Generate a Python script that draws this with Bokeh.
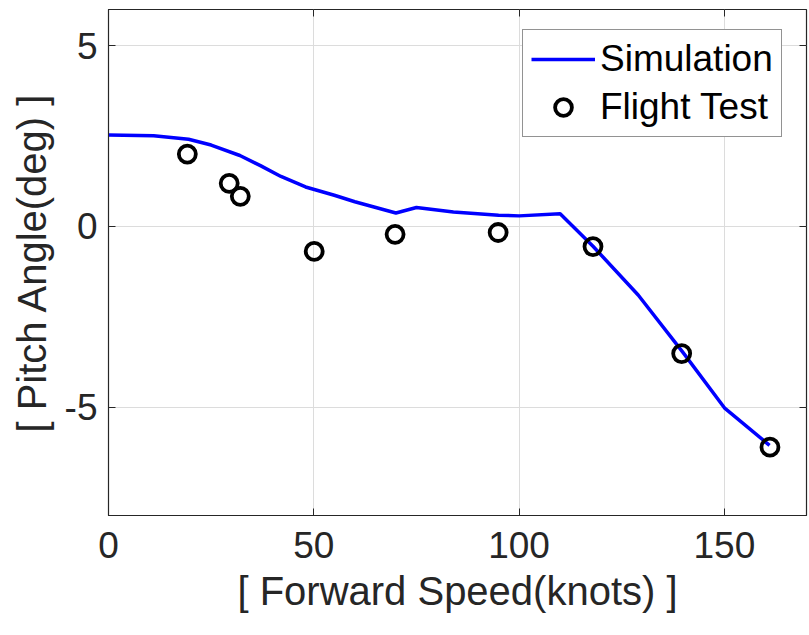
from bokeh.plotting import figure
from bokeh.models import Range1d, LinearAxis, Legend, LegendItem, FixedTicker
from bokeh.embed import file_html
from bokeh.resources import INLINE

# Simulated pitch angle vs forward speed
sim_speed = [0, 11, 19.5, 25, 32, 37, 42, 48, 55, 60, 70, 75, 84, 95, 100, 110, 118, 129, 140, 150, 161]
sim_pitch = [2.53, 2.51, 2.41, 2.25, 1.96, 1.68, 1.38, 1.09, 0.86, 0.68, 0.37, 0.52, 0.40, 0.31, 0.29, 0.35, -0.55, -1.9, -3.5, -5.02, -6.06]

# Flight test measurements
test_speed = [19.2, 29.4, 32.1, 50.1, 69.8, 94.9, 118.0, 139.6, 161.1]
test_pitch = [2.0, 1.19, 0.83, -0.69, -0.22, -0.17, -0.56, -3.52, -6.11]

x_ticks = [0, 50, 100, 150]
y_ticks = [-5, 0, 5]
y_tick_text = {-5: "-5", 0: "0", 5: "5"}

FONT = "Liberation Sans"
TXT = "#262626"

p = figure(width=809, height=635, output_backend="svg", toolbar_location=None,
           x_range=Range1d(0, 170), y_range=Range1d(-8, 6),
           min_border_left=108, min_border_right=3, min_border_top=9,
           min_border_bottom=120, background_fill_color="white",
           border_fill_color="white")

p.outline_line_color = TXT
p.outline_line_width = 1.2

for ax in (p.xaxis[0], p.yaxis[0]):
    ax.major_tick_in = 7
    ax.major_tick_out = 0
    ax.minor_tick_line_color = None
    ax.axis_line_color = TXT
    ax.major_tick_line_color = TXT
    ax.major_label_text_font = FONT
    ax.major_label_text_font_size = "37px"
    ax.major_label_text_color = TXT
    ax.axis_label_text_font = FONT
    ax.axis_label_text_font_size = "40px"
    ax.axis_label_text_font_style = "normal"
    ax.axis_label_text_color = TXT

p.xaxis.ticker = FixedTicker(ticks=x_ticks)
p.yaxis.ticker = FixedTicker(ticks=y_ticks)
p.yaxis.major_label_overrides = y_tick_text
p.xaxis.axis_label = "[ Forward Speed(knots) ]"
p.yaxis.axis_label = "[ Pitch Angle(deg) ]"
p.xaxis.major_label_standoff = 16
p.yaxis.major_label_standoff = 11
p.xaxis.axis_label_standoff = 8
p.yaxis.axis_label_standoff = 8

# tick marks on the top and right edges of the box
top = LinearAxis(ticker=FixedTicker(ticks=x_ticks),
                 major_label_overrides={t: "" for t in x_ticks},
                 major_tick_in=7, major_tick_out=0, minor_tick_line_color=None,
                 axis_line_color=None, major_tick_line_color=TXT, major_label_standoff=0)
right = LinearAxis(ticker=FixedTicker(ticks=y_ticks),
                   major_label_overrides={t: "" for t in y_ticks},
                   major_tick_in=7, major_tick_out=0, minor_tick_line_color=None,
                   axis_line_color=None, major_tick_line_color=TXT, major_label_standoff=0)
p.add_layout(top, "above")
p.add_layout(right, "right")

p.xgrid.ticker = FixedTicker(ticks=x_ticks)
p.ygrid.ticker = FixedTicker(ticks=y_ticks)
p.grid.grid_line_color = "#dcdcdc"
p.grid.grid_line_width = 1

sim = p.line(sim_speed, sim_pitch, line_color="#0000ff", line_width=3.5,
             line_join="round")
test = p.scatter(test_speed, test_pitch, marker="circle", size=17, fill_color=None,
                 line_color="black", line_width=3.8)

legend = Legend(items=[LegendItem(label="Simulation", renderers=[sim]),
                       LegendItem(label="Flight Test", renderers=[test])],
                location=(414, 378))
legend.label_text_font = FONT
legend.label_text_font_size = "37px"
legend.label_text_color = "black"
legend.label_height = 42
legend.glyph_width = 64
legend.glyph_height = 42
legend.label_standoff = 5
legend.spacing = 6
legend.padding = 8
legend.margin = 0
legend.border_line_color = TXT
legend.border_line_width = 1.2
legend.background_fill_alpha = 1
p.add_layout(legend, "center")

open("out.html", "w").write(file_html(p, INLINE))
